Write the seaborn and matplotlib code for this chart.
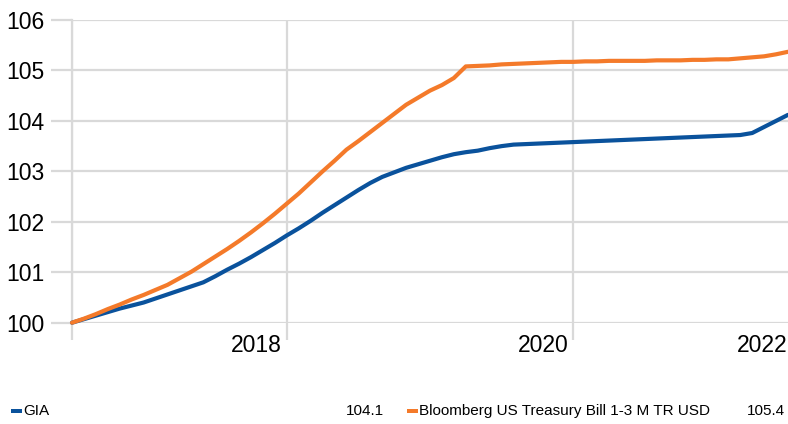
import numpy as np
import pandas as pd
import matplotlib
matplotlib.use("Agg")
import matplotlib.pyplot as plt
import seaborn as sns
from matplotlib.transforms import blended_transform_factory
from matplotlib.patches import Rectangle

# ---- data (monthly index) ----
months = list(range(61))
gia = [100.00, 100.07, 100.14, 100.21, 100.28, 100.34, 100.40, 100.48, 100.56, 100.64,
       100.72, 100.80, 100.92, 101.05, 101.17, 101.30, 101.44, 101.58, 101.73, 101.87,
       102.02, 102.18, 102.33, 102.48, 102.63, 102.77, 102.89, 102.98, 103.07, 103.14,
       103.21, 103.28, 103.34, 103.38, 103.41, 103.46, 103.50, 103.53, 103.54, 103.55,
       103.56, 103.57, 103.58, 103.59, 103.60, 103.61, 103.62, 103.63, 103.64, 103.65,
       103.66, 103.67, 103.68, 103.69, 103.70, 103.71, 103.72, 103.76, 103.88, 104.00,
       104.12]
bbg = [100.00, 100.08, 100.17, 100.27, 100.36, 100.46, 100.55, 100.65, 100.75, 100.88,
       101.01, 101.16, 101.31, 101.46, 101.62, 101.79, 101.97, 102.16, 102.36, 102.56,
       102.78, 103.00, 103.21, 103.43, 103.60, 103.78, 103.96, 104.14, 104.32, 104.46,
       104.60, 104.71, 104.85, 105.08, 105.09, 105.10, 105.12, 105.13, 105.14, 105.15,
       105.16, 105.17, 105.17, 105.18, 105.18, 105.19, 105.19, 105.19, 105.19, 105.20,
       105.20, 105.20, 105.21, 105.21, 105.22, 105.22, 105.24, 105.26, 105.28, 105.32,
       105.37]
series_names = ["GIA", "Bloomberg US Treasury Bill 1-3 M TR USD"]
last_values = ["104.1", "105.4"]
year_labels = ["2018", "2020", "2022"]
year_label_pos = [18, 42, 60]
grid_x = [0, 18, 42]
y_ticks = [100, 101, 102, 103, 104, 105, 106]

colors = ["#0a529c", "#f47a2a"]
grid_c = "#d9d9d9"

df = pd.DataFrame({
    "month": months * 2,
    "value": gia + bbg,
    "series": [series_names[0]] * len(months) + [series_names[1]] * len(months),
})

sns.set_theme(style="white")
plt.rcParams["font.family"] = ["Liberation Sans", "DejaVu Sans"]

fig = plt.figure(figsize=(7.88, 4.24), dpi=100)
ax = fig.add_axes([72 / 788, (424 - 322.7) / 424, (788 - 72) / 788, (322.7 - 20) / 424])

sns.lineplot(data=df, x="month", y="value", hue="series", palette=colors,
             linewidth=3.0, ax=ax, legend=False, zorder=3)
for ln in ax.lines:
    ln.set_solid_joinstyle("round")
    ln.set_clip_on(False)

ax.set_xlim(0, 60)
ax.set_ylim(100, 106)
ax.set_yticks(y_ticks)
ax.set_yticklabels([str(v) for v in y_ticks], fontsize=16.5, color="#000000")
ax.set_xticks(grid_x)
ax.set_xticklabels([])
ax.grid(True, color=grid_c, linewidth=1.6)
ax.tick_params(axis="y", length=15, width=1.6, color=grid_c, pad=5, left=True)
ax.tick_params(axis="x", length=12, width=1.6, color=grid_c, bottom=True)
for s in ["top", "right", "bottom"]:
    ax.spines[s].set_visible(False)
ax.spines["left"].set_color(grid_c)
ax.spines["left"].set_linewidth(1.6)
ax.set_xlabel("")
ax.set_ylabel("")

trans = blended_transform_factory(ax.transData, fig.transFigure)
for lab, pos in zip(year_labels, year_label_pos):
    xoff = -0.4 if pos < 60 else -0.05
    ax.text(pos + xoff, (424 - 346) / 424, lab, transform=trans, ha="right",
            va="center", fontsize=16.5, color="#000000")

# bottom legend
ly = (424 - 411) / 424
fs = 11
W, H = 788.0, 424.0
for x0, c in [(11, colors[0]), (407, colors[1])]:
    fig.add_artist(Rectangle((x0 / W, (H - 412.5) / H), 11 / W, 3.5 / H,
                             transform=fig.transFigure, color=c, lw=0))
fig.text(23 / W, ly, series_names[0], fontsize=fs, va="center", ha="left", color="#000")
fig.text(384 / W, ly, last_values[0], fontsize=fs, va="center", ha="right", color="#000")
fig.text(419 / W, ly, series_names[1], fontsize=fs, va="center", ha="left", color="#000")
fig.text(785 / W, ly, last_values[1], fontsize=fs, va="center", ha="right", color="#000")

fig.savefig("out.png", dpi=100)
